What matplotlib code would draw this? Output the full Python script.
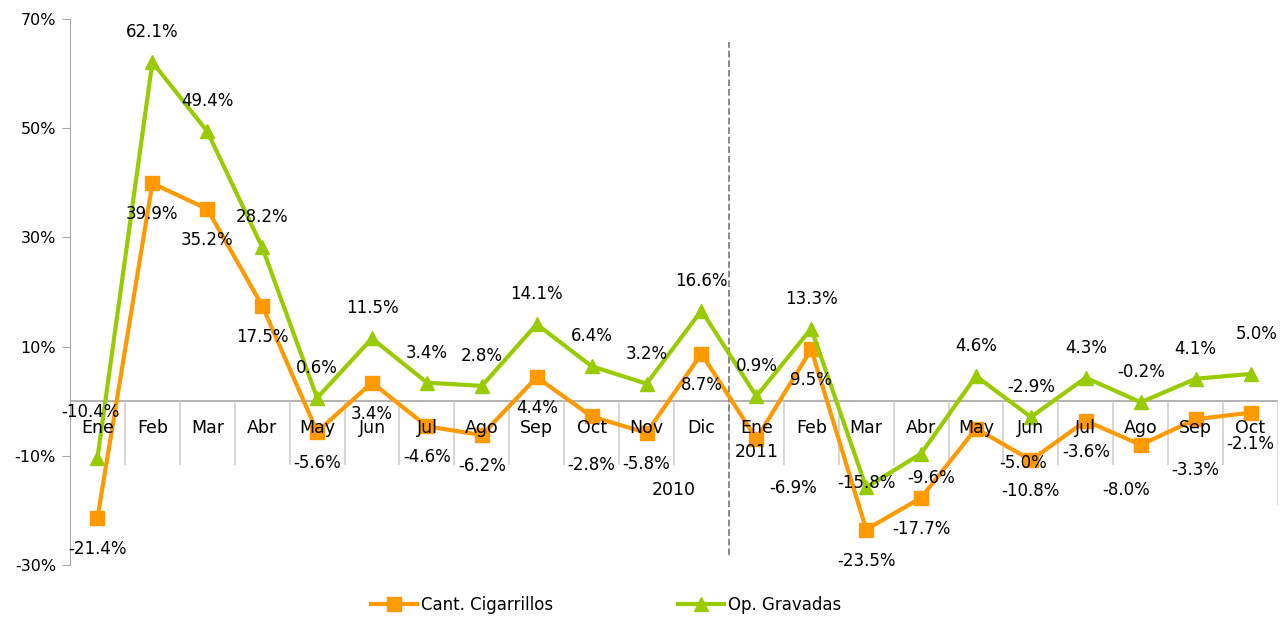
import matplotlib
matplotlib.use('Agg')
import matplotlib.pyplot as plt
import numpy as np

months = ['Ene', 'Feb', 'Mar', 'Abr', 'May', 'Jun', 'Jul', 'Ago', 'Sep', 'Oct', 'Nov', 'Dic',
          'Ene\n2011', 'Feb', 'Mar', 'Abr', 'May', 'Jun', 'Jul', 'Ago', 'Sep', 'Oct']
cigarrillos = [-21.4, 39.9, 35.2, 17.5, -5.6, 3.4, -4.6, -6.2, 4.4, -2.8, -5.8, 8.7,
               -6.9, 9.5, -23.5, -17.7, -5.0, -10.8, -3.6, -8.0, -3.3, -2.1]
gravadas = [-10.4, 62.1, 49.4, 28.2, 0.6, 11.5, 3.4, 2.8, 14.1, 6.4, 3.2, 16.6,
            0.9, 13.3, -15.8, -9.6, 4.6, -2.9, 4.3, -0.2, 4.1, 5.0]
yticks = [-30, -10, 10, 30, 50, 70]

# label offsets in pixels (dx, dy) -- dy positive = up
off_cig = [(0, -31)] * 22
off_cig[9] = (0, -49)
off_cig[12] = (37, -49)
off_cig[16] = (47, -34)
off_cig[19] = (-15, -45)
off_cig[20] = (0, -51)
off_grav = [(0, 30)] * 22
off_grav[0] = (-7, 46)
off_grav[14] = (0, 4)
off_grav[15] = (10, -24)
off_grav[21] = (6, 40)

orange = '#FF9900'
green = '#99CC00'
gray = '#A6A6A6'

fig = plt.figure(figsize=(12.86, 6.18), dpi=100)
ax = fig.add_axes([70/1286, 1-565/618, 1208/1286, 546/618])
x = np.arange(len(months))

ax.plot(x, cigarrillos, color=orange, lw=3, marker='s', ms=10, label='Cant. Cigarrillos')
ax.plot(x, gravadas, color=green, lw=3, marker='^', ms=10, label='Op. Gravadas')

for i in x:
    ax.annotate('%.1f%%' % cigarrillos[i], (i, cigarrillos[i]), xytext=off_cig[i],
                textcoords='offset pixels', ha='center', va='center', fontsize=12)
    ax.annotate('%.1f%%' % gravadas[i], (i, gravadas[i]), xytext=off_grav[i],
                textcoords='offset pixels', ha='center', va='center', fontsize=12)

ax.set_xlim(-0.5, len(months) - 0.5)
ax.set_ylim(-30, 70)
ax.set_yticks(yticks)
ax.set_yticklabels(['%d%%' % v for v in yticks], fontsize=11.5)
ax.tick_params(axis='y', length=6, color=gray, pad=4)
ax.set_xticks([])
for s in ['top', 'right', 'bottom']:
    ax.spines[s].set_visible(False)
ax.spines['left'].set_color(gray)

ax.axhline(0, color=gray, lw=1.2, zorder=1)
tr = ax.get_xaxis_transform()
zero_frac = (565 - 401) / 546
ax.vlines(x[:-1] + 0.5, 0.183, zero_frac, transform=tr, color='#D0D0D0', lw=1.2, zorder=1)
ax.vlines([len(months) - 0.5], 0.11, zero_frac, transform=tr, color='#D0D0D0', lw=1.2, zorder=1)
ax.vlines([11.5], 0.018, 0.958, transform=tr, color='#808080', lw=1.3, ls='--', zorder=1)

for i, m in enumerate(months):
    ax.text(i, 0.268, m, transform=tr, ha='center', va='top', fontsize=12.5, linespacing=1.45)
ax.text(10.5, 0.138, '2010', transform=tr, ha='center', va='center', fontsize=12.5)

fig.legend(loc='center', bbox_to_anchor=(0.471, 1 - 605/618), ncol=2, frameon=False,
           fontsize=12, handlelength=2.8, columnspacing=7.5, handletextpad=0.2)

fig.savefig('out.png', dpi=100)
